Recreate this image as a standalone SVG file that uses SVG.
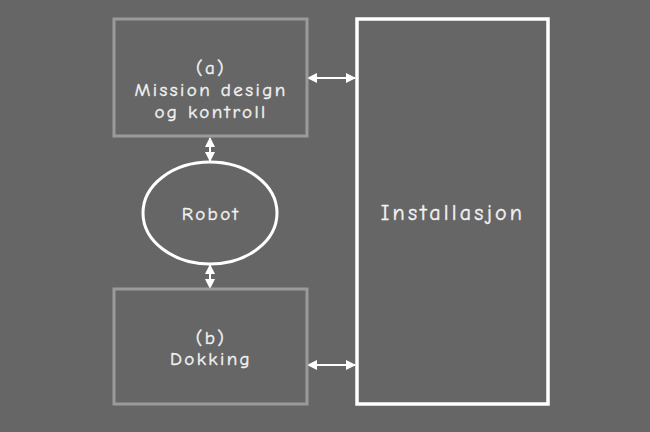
<svg xmlns="http://www.w3.org/2000/svg" width="650" height="432" viewBox="0 0 650 432">
<style>
.bg{fill:#666666}
.box{fill:none;stroke:#9a9a9a;stroke-width:3}
.inst{fill:none;stroke:#ffffff;stroke-width:3.5}
.ell{fill:none;stroke:#ffffff;stroke-width:3}
.t{font-family:"Comic Neue","Noto Sans","DejaVu Sans",sans-serif;fill:#f2f2f2;stroke:#f2f2f2;stroke-width:0.4;text-anchor:middle;font-size:19px;letter-spacing:2.4px}
.c{stroke:#ffffff;stroke-width:2;fill:none;marker-start:url(#a);marker-end:url(#a)}
</style>
<defs>
<marker id="a" viewBox="0 0 10 10" refX="9" refY="5" markerWidth="5" markerHeight="5" orient="auto-start-reverse" markerUnits="strokeWidth">
<path d="M0,0 L10,5 L0,10 z" fill="#ffffff"/>
</marker>
</defs>
<rect class="bg" x="0" y="0" width="650" height="432"/>
<g id="connectors">
<line class="c" x1="308" y1="78" x2="355" y2="78"/>
<line class="c" x1="308" y1="365" x2="355" y2="365"/>
<line class="c" x1="210" y1="138" x2="210" y2="161"/>
<line class="c" x1="210" y1="265" x2="210" y2="288"/>
</g>
<g id="node-a">
<rect class="box" x="114" y="19" width="193" height="117"/>
<text class="t" x="211" y="74">(a)</text>
<text class="t" x="211" y="96">Mission design</text>
<text class="t" x="211" y="118">og kontroll</text>
</g>
<g id="node-robot">
<ellipse class="ell" cx="210" cy="213" rx="67" ry="51"/>
<text class="t" x="211" y="220">Robot</text>
</g>
<g id="node-b">
<rect class="box" x="114" y="289" width="193" height="115"/>
<text class="t" x="211" y="344">(b)</text>
<text class="t" x="211" y="365">Dokking</text>
</g>
<g id="node-inst">
<rect class="inst" x="357" y="19" width="191" height="385"/>
<text class="t" x="453" y="220" style="font-size:22px;letter-spacing:3.2px">Installasjon</text>
</g>
</svg>
